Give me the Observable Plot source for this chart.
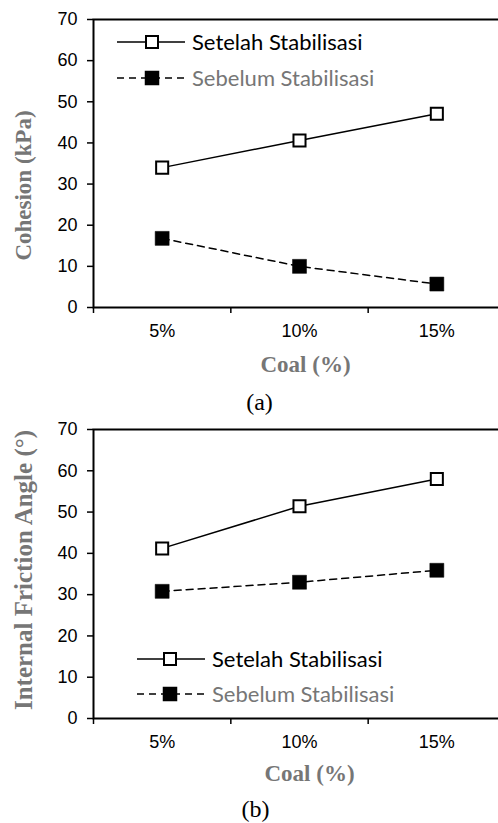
<!DOCTYPE html>
<html><head><meta charset="utf-8">
<script src="https://cdn.jsdelivr.net/npm/d3@7"></script>
<script src="https://cdn.jsdelivr.net/npm/@observablehq/plot@0.6"></script>
<style>
html,body{margin:0;padding:0;background:#fff;overflow:hidden;width:498px;height:823px}
svg{display:block}
</style></head><body><div id="a"></div><div id="b"></div>
<script>
const categories = ["5%", "10%", "15%"];
const seriesNames = ["Setelah Stabilisasi", "Sebelum Stabilisasi"];
const cohesionSetelah = [34.0, 40.6, 47.1];
const cohesionSebelum = [16.8, 10.0, 5.7];
const frictionSetelah = [41.2, 51.4, 58.0];
const frictionSebelum = [30.8, 33.0, 35.9];
const yTicks = [0, 10, 20, 30, 40, 50, 60, 70];
const xBoundaries = [0, 1, 2, 3];
const xTitle = "Coal (%)";

const GRAY = "#767676";
const SERIF = "'Liberation Serif','Times New Roman',serif";
const SANS = "'Liberation Sans',Arial,sans-serif";

function chart(o) {
  const setRows = categories.map((c, i) => ({cat: c, pos: i + 0.5, v: o.setelah[i], s: seriesNames[0]}));
  const sebRows = categories.map((c, i) => ({cat: c, pos: i + 0.5, v: o.sebelum[i], s: seriesNames[1]}));
  const p = Plot.plot({
    width: 505, height: o.height,
    marginLeft: 93, marginRight: 0, marginTop: o.marginTop, marginBottom: o.marginBottom,
    style: {fontFamily: SANS, fontSize: "18px", background: "white", overflow: "visible"},
    x: {domain: [0, 3], axis: null},
    y: {domain: [0, 70], axis: null},
    marks: [
      Plot.axisY(yTicks, {anchor: "left", tickSize: 6, tickPadding: 10, fontSize: 18, strokeWidth: 1.5, label: null, fill: "black"}),
      Plot.axisX(xBoundaries, {anchor: "bottom", tickSize: 6, tickFormat: () => "", strokeWidth: 1.5, label: null}),
      Plot.axisX(categories.map((c, i) => i + 0.5), {anchor: "bottom", tickSize: 0, tickPadding: 17, fontSize: 18, tickFormat: d => categories[Math.floor(d)], label: null, fill: "black"}),
      Plot.frame({stroke: "black", strokeWidth: 2}),
      Plot.line(sebRows, {x: "pos", y: "v", stroke: "black", strokeWidth: 1.5, strokeDasharray: "7,5"}),
      Plot.line(setRows, {x: "pos", y: "v", stroke: "black", strokeWidth: 1.5}),
      Plot.dot(sebRows, {x: "pos", y: "v", symbol: "square", r: 7.9, fill: "black", stroke: "black", strokeWidth: 0.5}),
      Plot.dot(setRows, {x: "pos", y: "v", symbol: "square", r: 6.8, fill: "white", stroke: "black", strokeWidth: 2}),
      Plot.text([o.yLabel], {text: d => d, frameAnchor: "left", textAnchor: "middle", lineAnchor: "middle", dx: -70, dy: o.yLabelDy, rotate: -90, fontFamily: SERIF, fontWeight: "bold", fontSize: o.yLabelSize, fill: GRAY}),
      Plot.text([xTitle], {text: d => d, frameAnchor: "bottom", textAnchor: "middle", lineAnchor: "middle", dx: o.coalDx, dy: o.coalDy, fontFamily: SERIF, fontWeight: "bold", fontSize: 23, fill: GRAY}),
      Plot.text([o.caption], {text: d => d, frameAnchor: "bottom", textAnchor: "middle", lineAnchor: "middle", dx: o.capDx, dy: o.capDy, fontFamily: SERIF, fontSize: 24, fill: "black"})
    ]
  });
  p.style.maxWidth = "none";
  const svg = d3.select(p);
  const g = svg.append("g");
  const L = o.legend;
  const items = [
    {name: seriesNames[0], y: L.y1, dash: null, fill: "white", color: "black", side: 12, sw: 2},
    {name: seriesNames[1], y: L.y2, dash: "7,5", fill: "black", color: GRAY, side: 14, sw: 0.5}
  ];
  items.forEach(it => {
    g.append("line").attr("x1", L.x1).attr("x2", L.x2).attr("y1", it.y).attr("y2", it.y)
      .attr("stroke", "black").attr("stroke-width", 1.5).attr("stroke-dasharray", it.dash);
    g.append("rect").attr("x", L.mx - it.side / 2).attr("y", it.y - it.side / 2)
      .attr("width", it.side).attr("height", it.side)
      .attr("fill", it.fill).attr("stroke", "black").attr("stroke-width", it.sw);
    g.append("text").attr("x", L.tx).attr("y", it.y).attr("dy", "0.35em")
      .attr("text-anchor", "start")
      .attr("font-family", "Lato,'Open Sans',sans-serif").attr("font-size", 22)
      .attr("fill", it.color).text(it.name);
  });
  return p;
}

document.getElementById("a").appendChild(chart({
  setelah: cohesionSetelah, sebelum: cohesionSebelum, yLabel: "Cohesion (kPa)", caption: "(a)",
  height: 420, marginTop: 19, marginBottom: 113, yLabelDy: 22, yLabelSize: 23,
  coalDx: 6, coalDy: 57, capDx: -40, capDy: 95,
  legend: {x1: 117, x2: 185, mx: 152, tx: 192, y1: 42, y2: 78}
}));
document.getElementById("b").appendChild(chart({
  setelah: frictionSetelah, sebelum: frictionSebelum, yLabel: "Internal Friction Angle (°)", caption: "(b)",
  height: 403, marginTop: 9, marginBottom: 105, yLabelDy: -4, yLabelSize: 25,
  coalDx: 10, coalDy: 55, capDx: -44, capDy: 91,
  legend: {x1: 137, x2: 205, mx: 170, tx: 212, y1: 239, y2: 274}
}));
</script></body></html>
